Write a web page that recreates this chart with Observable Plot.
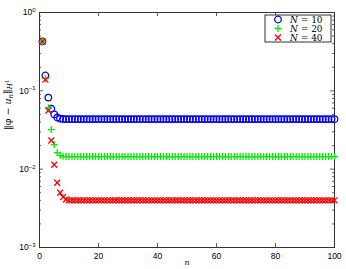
<!DOCTYPE html>
<html><head><meta charset="utf-8">
<script src="https://cdn.jsdelivr.net/npm/d3@7"></script>
<script src="https://cdn.jsdelivr.net/npm/@observablehq/plot@0.6"></script>
<style>body{margin:0;background:#fff} #chart{width:346px;height:269px}</style>
</head><body><div id="chart"></div>
<script>
// iteration index
const nValues = d3.range(1, 101);
// error for N = 10 (blue circles)
const errN10 = [
0.426,0.157,0.082,0.059,0.050,0.0456,0.0440,0.0436,0.0435,0.0435,
0.0435,0.0435,0.0435,0.0435,0.0435,0.0435,0.0435,0.0435,0.0435,0.0435,
0.0435,0.0435,0.0435,0.0435,0.0435,0.0435,0.0435,0.0435,0.0435,0.0435,
0.0435,0.0435,0.0435,0.0435,0.0435,0.0435,0.0435,0.0435,0.0435,0.0435,
0.0435,0.0435,0.0435,0.0435,0.0435,0.0435,0.0435,0.0435,0.0435,0.0435,
0.0435,0.0435,0.0435,0.0435,0.0435,0.0435,0.0435,0.0435,0.0435,0.0435,
0.0435,0.0435,0.0435,0.0435,0.0435,0.0435,0.0435,0.0435,0.0435,0.0435,
0.0435,0.0435,0.0435,0.0435,0.0435,0.0435,0.0435,0.0435,0.0435,0.0435,
0.0435,0.0435,0.0435,0.0435,0.0435,0.0435,0.0435,0.0435,0.0435,0.0435,
0.0435,0.0435,0.0435,0.0435,0.0435,0.0435,0.0435,0.0435,0.0435,0.0435];
// error for N = 20 (green plus)
const errN20 = [
0.426,0.143,0.061,0.032,0.0206,0.0163,0.0150,0.0146,0.0145,0.0145,
0.0145,0.0145,0.0145,0.0145,0.0145,0.0145,0.0145,0.0145,0.0145,0.0145,
0.0145,0.0145,0.0145,0.0145,0.0145,0.0145,0.0145,0.0145,0.0145,0.0145,
0.0145,0.0145,0.0145,0.0145,0.0145,0.0145,0.0145,0.0145,0.0145,0.0145,
0.0145,0.0145,0.0145,0.0145,0.0145,0.0145,0.0145,0.0145,0.0145,0.0145,
0.0145,0.0145,0.0145,0.0145,0.0145,0.0145,0.0145,0.0145,0.0145,0.0145,
0.0145,0.0145,0.0145,0.0145,0.0145,0.0145,0.0145,0.0145,0.0145,0.0145,
0.0145,0.0145,0.0145,0.0145,0.0145,0.0145,0.0145,0.0145,0.0145,0.0145,
0.0145,0.0145,0.0145,0.0145,0.0145,0.0145,0.0145,0.0145,0.0145,0.0145,
0.0145,0.0145,0.0145,0.0145,0.0145,0.0145,0.0145,0.0145,0.0145,0.0145];
// error for N = 40 (red crosses)
const errN40 = [
0.426,0.139,0.056,0.0232,0.0114,0.0067,0.0050,0.0044,0.0041,0.0040,
0.0040,0.0040,0.0040,0.0040,0.0040,0.0040,0.0040,0.0040,0.0040,0.0040,
0.0040,0.0040,0.0040,0.0040,0.0040,0.0040,0.0040,0.0040,0.0040,0.0040,
0.0040,0.0040,0.0040,0.0040,0.0040,0.0040,0.0040,0.0040,0.0040,0.0040,
0.0040,0.0040,0.0040,0.0040,0.0040,0.0040,0.0040,0.0040,0.0040,0.0040,
0.0040,0.0040,0.0040,0.0040,0.0040,0.0040,0.0040,0.0040,0.0040,0.0040,
0.0040,0.0040,0.0040,0.0040,0.0040,0.0040,0.0040,0.0040,0.0040,0.0040,
0.0040,0.0040,0.0040,0.0040,0.0040,0.0040,0.0040,0.0040,0.0040,0.0040,
0.0040,0.0040,0.0040,0.0040,0.0040,0.0040,0.0040,0.0040,0.0040,0.0040,
0.0040,0.0040,0.0040,0.0040,0.0040,0.0040,0.0040,0.0040,0.0040,0.0040];
const seriesLabels = ["10", "20", "40"];
const xTicks = [0, 20, 40, 60, 80, 100];
const yTicks = [1e-3, 1e-2, 1e-1, 1];
const yTickExponents = ["\u22123", "\u22122", "\u22121", "0"];
const yMinorTicks = [2e-3,3e-3,4e-3,5e-3,6e-3,7e-3,8e-3,9e-3,
  2e-2,3e-2,4e-2,5e-2,6e-2,7e-2,8e-2,9e-2,
  2e-1,3e-1,4e-1,5e-1,6e-1,7e-1,8e-1,9e-1];

const colors = ["#0000ff", "#00ee00", "#ff0000"];
const symbols = ["circle", "plus", "times"];
const radii = [3.3, 2.4, 2.8];

const W = 346, H = 269, mt = 12, mr = 12, mb = 22, ml = 39;
const iw = W - ml - mr, ih = H - mt - mb;
const axisColor = "#333";

const rows = (vals) => nValues.map((n, i) => ({n, v: vals[i]}));
const series = [errN10, errN20, errN40].map(rows);

const chart = Plot.plot({
  width: W, height: H,
  marginTop: mt, marginRight: mr, marginBottom: mb, marginLeft: ml,
  style: {fontFamily: "'Liberation Sans', Arial, sans-serif", fontSize: "8.5px", background: "#fff", color: "#000"},
  x: {domain: [0, 100], ticks: xTicks, tickSize: 0, tickPadding: 5, label: null},
  y: {type: "log", domain: [1e-3, 1], ticks: yTicks, tickSize: 0, tickPadding: 4, label: null,
      tickFormat: d => "10|" + yTickExponents[yTicks.findIndex(v => Math.abs(Math.log10(v) - Math.log10(d)) < 1e-6)]},
  marks: [
    Plot.tickX(xTicks, {x: d => d, insetTop: ih - 4, stroke: axisColor, strokeWidth: 0.8}),
    Plot.tickX(xTicks, {x: d => d, insetBottom: ih - 4, stroke: axisColor, strokeWidth: 0.8}),
    Plot.tickY(yTicks, {y: d => d, insetRight: iw - 4, stroke: axisColor, strokeWidth: 0.8}),
    Plot.tickY(yTicks, {y: d => d, insetLeft: iw - 4, stroke: axisColor, strokeWidth: 0.8}),
    Plot.tickY(yMinorTicks, {y: d => d, insetRight: iw - 2, stroke: axisColor, strokeWidth: 0.8}),
    Plot.tickY(yMinorTicks, {y: d => d, insetLeft: iw - 2, stroke: axisColor, strokeWidth: 0.8}),
    Plot.frame({stroke: axisColor, strokeWidth: 1}),
    ...series.map((data, i) => Plot.dot(data, {
      x: "n", y: "v", symbol: () => symbols[i], r: radii[i],
      stroke: colors[i], fill: "none", strokeWidth: 1.3
    })),
    Plot.text(["n"], {frameAnchor: "bottom", dy: 17, fontFamily: "'DejaVu Serif', serif", fontStyle: "italic", fontSize: 8}),
    Plot.text(["ylabel"], {frameAnchor: "left", dx: -32, rotate: -90, fontFamily: "'DejaVu Serif', serif", fontSize: 9.5})
  ]
});
document.getElementById("chart").appendChild(chart);
const svg = d3.select(chart);

// superscripts for y tick labels
svg.selectAll('g[aria-label="y-axis tick label"] text').each(function() {
  const t = d3.select(this);
  const parts = this.textContent.split("|");
  t.text(parts[0]);
  t.append("tspan").attr("dy", "-0.55em").attr("font-size", "6px").text(parts[1]);
});

// y label with subscripts
svg.selectAll("text").filter(function() { return this.textContent === "ylabel"; }).each(function() {
  const t = d3.select(this);
  t.text("");
  t.append("tspan").text("\u2016\u03c6 \u2212 ");
  t.append("tspan").attr("font-style", "italic").text("u");
  t.append("tspan").attr("font-style", "italic").attr("font-size", "7px").attr("dy", "0.3em").text("n");
  t.append("tspan").attr("dy", "-0.3em").text("\u2016");
  t.append("tspan").attr("font-style", "italic").attr("font-size", "7px").attr("dy", "0.3em").text("H");
  t.append("tspan").attr("font-size", "5.5px").attr("dy", "-0.6em").text("1");
});

// legend
const lg = svg.append("g").attr("transform", "translate(265,15)");
lg.append("rect").attr("width", 66).attr("height", 27).attr("fill", "#fff").attr("stroke", "#000").attr("stroke-width", 0.8);
const symGen = [d3.symbolCircle, d3.symbolPlus, d3.symbolTimes];
const symSize = radii.map(r => Math.PI * r * r);
seriesLabels.forEach((lab, i) => {
  const y = 4.5 + i * 9;
  lg.append("path").attr("transform", `translate(13,${y})`)
    .attr("d", d3.symbol(symGen[i], symSize[i])())
    .attr("fill", "none").attr("stroke", colors[i]).attr("stroke-width", 1.3);
  const t = lg.append("text").attr("x", 25).attr("y", y).attr("dy", "0.35em")
    .attr("text-anchor", "start")
    .attr("font-family", "'DejaVu Serif', serif").attr("font-size", "9px");
  t.append("tspan").attr("font-style", "italic").text("N");
  t.append("tspan").text(" = " + lab);
});
</script></body></html>
